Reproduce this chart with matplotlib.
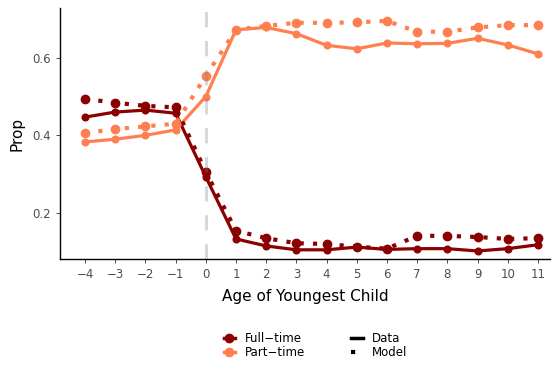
import matplotlib.pyplot as plt
from matplotlib.lines import Line2D
import numpy as np

ages = [-4, -3, -2, -1, 0, 1, 2, 3, 4, 5, 6, 7, 8, 9, 10, 11]

full_data = [0.447, 0.460, 0.465, 0.457, 0.293, 0.133, 0.115, 0.105, 0.105,
             0.112, 0.106, 0.108, 0.108, 0.102, 0.108, 0.118]
full_model = [0.494, 0.484, 0.476, 0.472, 0.306, 0.154, 0.135, 0.122, 0.120,
              0.113, 0.108, 0.141, 0.141, 0.138, 0.133, 0.135]
part_data = [0.383, 0.390, 0.400, 0.414, 0.500, 0.672, 0.678, 0.662, 0.632,
             0.623, 0.638, 0.636, 0.637, 0.650, 0.633, 0.610]
part_model = [0.406, 0.416, 0.423, 0.430, 0.553, 0.672, 0.682, 0.690, 0.690,
              0.691, 0.695, 0.667, 0.667, 0.678, 0.684, 0.684]

c_full = '#8B0000'
c_part = '#FF7F50'

fig = plt.figure(figsize=(5.53, 3.66), dpi=100)
ax = fig.add_axes([0.1085, 0.292, 0.886, 0.686])

# dashed marker at birth, drawn over the lines with transparency
ax.axvline(0, color='grey', alpha=0.3, linewidth=2.2,
           linestyle=(0, (5, 4.5)), zorder=5)

dot = (0, (1, 2.2))
for vals, col in [(full_data, c_full), (part_data, c_part)]:
    ax.plot(ages, vals, color=col, linewidth=2.3, marker='o', markersize=4.8,
            solid_capstyle='butt', zorder=3)
for vals, col in [(full_model, c_full), (part_model, c_part)]:
    ax.plot(ages, vals, color=col, linewidth=3, linestyle=dot, marker='o',
            markersize=6, dash_capstyle='butt', zorder=3)

ax.set_xlim(-4.83, 11.4)
ax.set_ylim(0.081, 0.728)
ax.set_xticks(ages)
ax.set_yticks([0.2, 0.4, 0.6])
ax.set_yticklabels(['0.2', '0.4', '0.6'])
ax.tick_params(colors='#333333', labelsize=8.5, length=3, width=0.6)
for lab in ax.get_xticklabels() + ax.get_yticklabels():
    lab.set_color('#4d4d4d')
for s in ['top', 'right']:
    ax.spines[s].set_visible(False)
for s in ['left', 'bottom']:
    ax.spines[s].set_linewidth(1.0)
ax.set_xlabel('Age of Youngest Child', fontsize=11, labelpad=6)
ax.set_ylabel('Prop', fontsize=11, labelpad=6)

h1 = [Line2D([], [], color=c_full, marker='o', markersize=6, linewidth=2.5),
      Line2D([], [], color=c_part, marker='o', markersize=6, linewidth=2.5)]
leg1 = fig.legend(h1, ['Full\u2212time', 'Part\u2212time'], loc='center left',
                  bbox_to_anchor=(0.385, 0.055), frameon=False, fontsize=8.5,
                  handlelength=1.0, handletextpad=0.8, labelspacing=0.1)
h2 = [Line2D([], [], color='black', linewidth=2.5),
      Line2D([], [], color='black', linewidth=3, linestyle=dot, dash_capstyle='butt')]
leg2 = fig.legend(h2, ['Data', 'Model'], loc='center left',
                  bbox_to_anchor=(0.615, 0.055), frameon=False, fontsize=8.5,
                  handlelength=1.0, handletextpad=0.8, labelspacing=0.1)

fig.savefig('out.png', dpi=100)
